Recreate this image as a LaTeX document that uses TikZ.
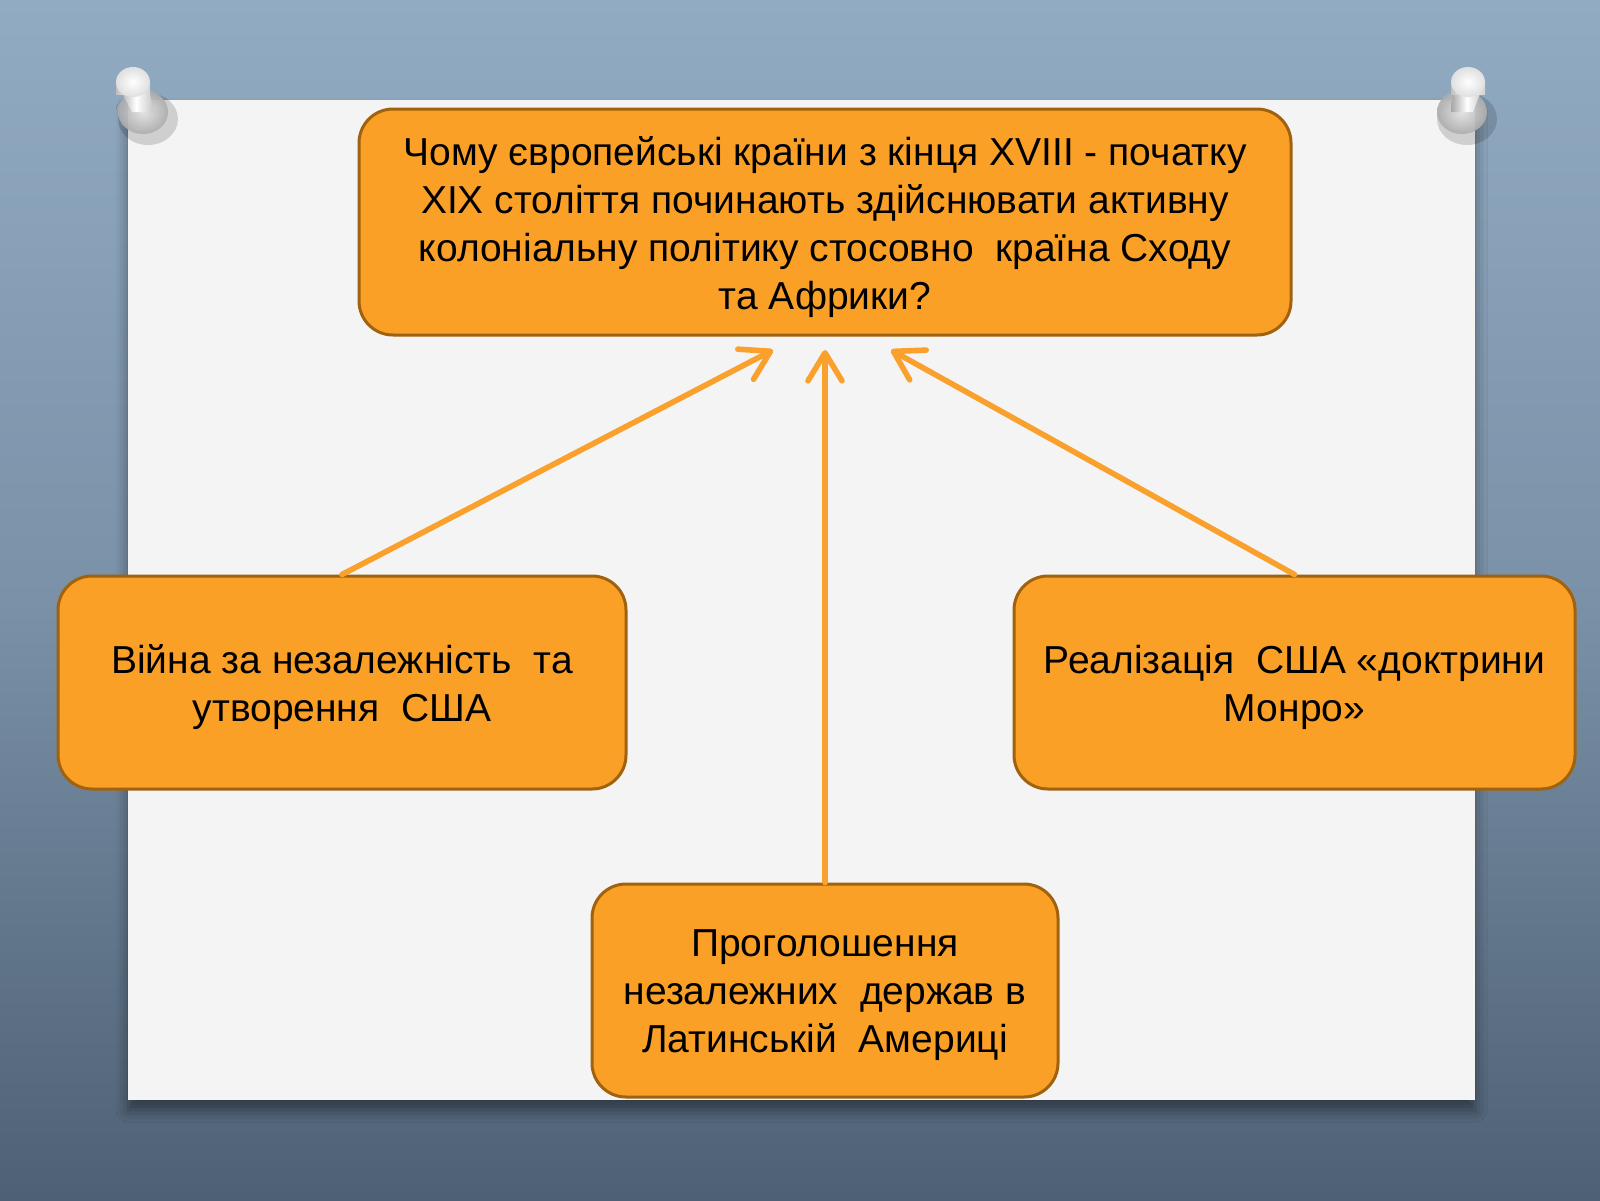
\documentclass[tikz,border=0pt]{standalone}
\usepackage{fontspec}
\setmainfont{Liberation Sans}
\usetikzlibrary{arrows.meta,shadows.blur}
\definecolor{boxfill}{HTML}{FBA026}
\definecolor{boxline}{HTML}{A0620E}
\definecolor{arrcol}{HTML}{F9A12C}
\definecolor{bgtop}{HTML}{91ABC3}
\definecolor{bgmid}{HTML}{7A91A7}
\definecolor{bgbot}{HTML}{4E6074}
\definecolor{paper}{HTML}{F4F4F4}
\tikzset{
  box/.style={draw=boxline, line width=1.5pt, fill=boxfill, rounded corners=17pt,
    inner sep=0pt},
  boxtext/.style={align=center, inner sep=0pt, font=\fontsize{19.5pt}{24pt}\selectfont},
  arr/.style={draw=arrcol, line width=2.8pt, line cap=round, line join=round,
    -{Straight Barb[round,length=14pt,width=17pt,line width=2.8pt]}},
}
\begin{document}
\begin{tikzpicture}[x=0.5pt,y=-0.5pt]
\useasboundingbox (0,0) rectangle (1600,1200);
% background
\shade[top color=bgtop, bottom color=bgbot, middle color=bgmid] (0,0) rectangle (1600,1200);
% paper
\fill[paper, blur shadow={shadow xshift=0pt, shadow yshift=-5pt, shadow blur radius=6pt, shadow opacity=45}] (128,100) rectangle (1475,1100);
% pins
\foreach \hx/\hy/\bx/\by in {133/82/143/112, 1468/82/1462/112}{
  \fill[black, opacity=0.15] (\bx+5,\by+7) ellipse [x radius=30, y radius=26];
  \shade[inner color=gray!20, outer color=gray!65, opacity=0.9] (\bx,\by) ellipse [x radius=25, y radius=22];
  \shade[left color=gray!70, right color=gray!45, middle color=white] (\hx-15,\hy+4) -- (\bx-11,\by) -- (\bx+11,\by) -- (\hx+15,\hy+4) -- cycle;
  \shade[left color=gray!50, right color=gray!35, middle color=white] (\hx-17,\hy) rectangle (\hx+17,\hy+12);
  \shade[inner color=white, outer color=gray!25] (\hx,\hy) ellipse [x radius=17, y radius=15];
}
% boxes
\node[box, minimum width=466pt, minimum height=113pt] (q) at (825,222) {};
\node[boxtext] (qt) at ([yshift=-2.5pt]q.center)
  {Чому європейські країни з кінця XVIII - початку\\
   XIX століття починають здійснювати активну\\
   колоніальну політику стосовно\ \ країна Сходу\\
   та Африки?};
\node[box, minimum width=284pt, minimum height=106.5pt] (l) at (342,682.5) {};
\node[boxtext] (lt) at ([yshift=-2.5pt]l.center)
  {Війна за незалежність\ \ та\\ утворення\ \ США};
\node[box, minimum width=280.5pt, minimum height=106.5pt] (r) at (1294.5,682.5) {};
\node[boxtext] (rt) at ([yshift=-2.5pt]r.center)
  {Реалізація\ \ США «доктрини\\ Монро»};
\node[box, minimum width=233pt, minimum height=106.5pt] (b) at (825,990.5) {};
\node[boxtext] (bt) at ([yshift=-2.5pt]b.center)
  {Проголошення\\ незалежних\ \ держав в\\ Латинській\ \ Америці};
% arrow tips
\coordinate (tl) at (773,350);
\coordinate (tc) at (825,350);
\coordinate (tr) at (891,350);
\draw[arr] (l.north) -- (tl);
\draw[arr] (b.north) -- (tc);
\draw[arr] (r.north) -- (tr);
\end{tikzpicture}
\end{document}
